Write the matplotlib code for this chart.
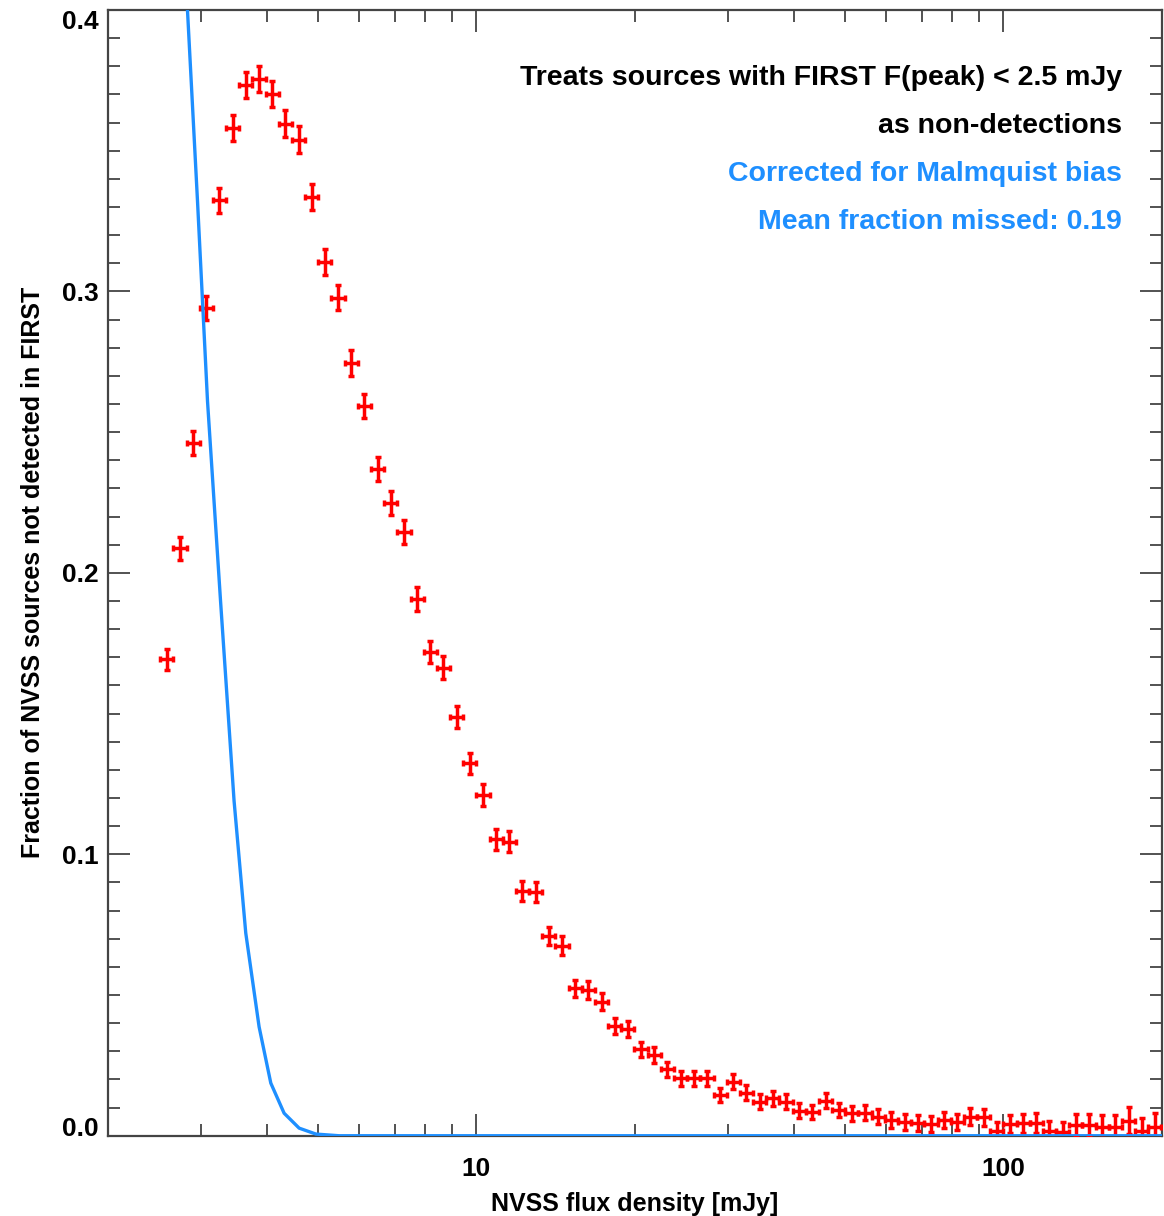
import matplotlib
matplotlib.use('Agg')
import matplotlib.pyplot as plt
from matplotlib.ticker import MultipleLocator, LogLocator, FixedLocator, FixedFormatter, NullFormatter
import numpy as np

plt.rcParams['font.family'] = ['Liberation Sans', 'DejaVu Sans']
plt.rcParams['font.weight'] = 'bold'

# bin centres, log10 of NVSS flux density [mJy]
log_flux = [0.4125, 0.4375, 0.4625, 0.4875, 0.5125, 0.5375, 0.5625, 0.5875, 0.6125, 0.6375,
            0.6625, 0.6875, 0.7125, 0.7375, 0.7625, 0.7875, 0.8125, 0.8375, 0.8625, 0.8875,
            0.9125, 0.9375, 0.9625, 0.9875, 1.0125, 1.0375, 1.0625, 1.0875, 1.1125, 1.1375,
            1.1625, 1.1875, 1.2125, 1.2375, 1.2625, 1.2875, 1.3125, 1.3375, 1.3625, 1.3875,
            1.4125, 1.4375, 1.4625, 1.4875, 1.5125, 1.5375, 1.5625, 1.5875, 1.6125, 1.6375,
            1.6625, 1.6875, 1.7125, 1.7375, 1.7625, 1.7875, 1.8125, 1.8375, 1.8625, 1.8875,
            1.9125, 1.9375, 1.9625, 1.9875, 2.0125, 2.0375, 2.0625, 2.0875, 2.1125, 2.1375,
            2.1625, 2.1875, 2.2125, 2.2375, 2.2625, 2.2875]
bin_half = 0.0125

# fraction of NVSS sources not detected in FIRST
frac = [0.1693, 0.2087, 0.2461, 0.2941, 0.3324, 0.3582, 0.3733, 0.3754, 0.3702, 0.3596,
        0.3539, 0.3335, 0.3106, 0.2978, 0.2746, 0.2593, 0.2369, 0.2247, 0.2145, 0.1907,
        0.1718, 0.1663, 0.1489, 0.1323, 0.1211, 0.1053, 0.1045, 0.0870, 0.0867, 0.0710,
        0.0675, 0.0524, 0.0518, 0.0476, 0.0390, 0.0378, 0.0307, 0.0287, 0.0236, 0.0204,
        0.0204, 0.0204, 0.0145, 0.0192, 0.0153, 0.0121, 0.0133, 0.0121, 0.0089, 0.0085,
        0.0124, 0.0091, 0.0080, 0.0082, 0.0068, 0.0056, 0.0050, 0.0044, 0.0042, 0.0056,
        0.0050, 0.0068, 0.0065, 0.0018, 0.0042, 0.0044, 0.0044, 0.0018, 0.0014, 0.0038,
        0.0038, 0.0032, 0.0032, 0.0053, 0.0018, 0.0032]

frac_err = [0.0037, 0.0040, 0.0042, 0.0044, 0.0045, 0.0046, 0.0047, 0.0047, 0.0047, 0.0047,
            0.0047, 0.0046, 0.0046, 0.0045, 0.0045, 0.0044, 0.0043, 0.0043, 0.0042, 0.0041,
            0.0040, 0.0040, 0.0039, 0.0038, 0.0038, 0.0037, 0.0037, 0.0035, 0.0035, 0.0033,
            0.0033, 0.0031, 0.0031, 0.0030, 0.0028, 0.0028, 0.0027, 0.0027, 0.0026, 0.0026,
            0.0026, 0.0026, 0.0026, 0.0027, 0.0026, 0.0026, 0.0026, 0.0026, 0.0026, 0.0026,
            0.0027, 0.0026, 0.0026, 0.0027, 0.0027, 0.0027, 0.0028, 0.0028, 0.0028, 0.0029,
            0.0029, 0.0031, 0.0031, 0.0030, 0.0033, 0.0034, 0.0036, 0.0034, 0.0034, 0.0038,
            0.0040, 0.0040, 0.0042, 0.0048, 0.0045, 0.0050]

# Malmquist-bias corrected curve
curve_flux = [2.73, 2.83, 2.957, 3.089, 3.270, 3.469, 3.651, 3.870, 4.073, 4.317, 4.610, 4.960, 5.49, 200.0]
curve_frac = [0.457, 0.400, 0.332, 0.261, 0.190, 0.119, 0.072, 0.0387, 0.0187, 0.0080, 0.0027, 0.0006, 0.0, 0.0]

notes = ['Treats sources with FIRST F(peak) < 2.5 mJy', 'as non-detections',
         'Corrected for Malmquist bias', 'Mean fraction missed: 0.19']
note_colors = ['black', 'black', '#1e8fff', '#1e8fff']

red = '#ff0000'
blue = '#1e8fff'
axis_col = '#444444'

fig = plt.figure(figsize=(11.64, 12.16), dpi=100)
ax = fig.add_axes([0.0928, 0.066, 0.9055, 0.9258])

lf = np.array(log_flux)
x = 10 ** lf
xlo = x - 10 ** (lf - bin_half)
xhi = 10 ** (lf + bin_half) - x

ax.errorbar(x, frac, yerr=frac_err, xerr=[xlo, xhi], fmt='none', ecolor=red,
            elinewidth=2.5, capsize=2.2, capthick=2.5, zorder=3)
ax.plot(curve_flux, curve_frac, color=blue, lw=2.4, zorder=4)

ax.set_xscale('log')
ax.set_xlim(2.0, 200.0)
ax.set_ylim(0.0, 0.4)

ax.xaxis.set_major_locator(FixedLocator([10, 100]))
ax.xaxis.set_major_formatter(FixedFormatter(['10', '100']))
ax.xaxis.set_minor_locator(LogLocator(base=10, subs=np.arange(2, 10), numticks=20))
ax.xaxis.set_minor_formatter(NullFormatter())
ax.yaxis.set_major_locator(FixedLocator([0.0, 0.1, 0.2, 0.3, 0.4]))
ax.yaxis.set_major_formatter(FixedFormatter(['0.0', '0.1', '0.2', '0.3', '0.4']))
ax.yaxis.set_minor_locator(MultipleLocator(0.01))

ax.tick_params(which='both', direction='in', top=True, right=True, color=axis_col, width=1.3)
ax.tick_params(which='major', length=16, labelsize=19)
ax.tick_params(which='minor', length=8.5)
ax.tick_params(axis='x', which='major', pad=15)
ax.tick_params(axis='y', which='major', pad=7)
for s in ax.spines.values():
    s.set_color(axis_col)
    s.set_linewidth(1.6)

fig.canvas.draw()
for lab in ax.get_yticklabels():
    if lab.get_text() == '0.0':
        lab.set_va('baseline')
    elif lab.get_text() == '0.4':
        lab.set_va('top')

ax.set_xlabel('NVSS flux density [mJy]', fontsize=18, fontweight='bold', labelpad=8)
ax.set_ylabel('Fraction of NVSS sources not detected in FIRST', fontsize=18,
              fontweight='bold', labelpad=12)

ypos = [0.9396, 0.8970, 0.8543, 0.8117]
for t, c, yy in zip(notes, note_colors, ypos):
    ax.text(0.962, yy, t, transform=ax.transAxes, ha='right', va='center',
            fontsize=20.5, fontweight='bold', color=c)

fig.savefig('out.png', dpi=100)
